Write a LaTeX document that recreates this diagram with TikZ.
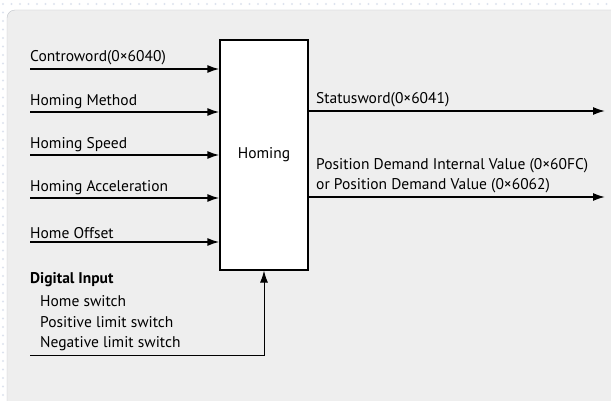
\documentclass[tikz,border=0pt]{standalone}
\usepackage{fontspec}
\setmainfont{PT Sans}
\usetikzlibrary{arrows.meta,positioning,calc}
\definecolor{panelgray}{HTML}{EEEEEE}
\definecolor{panelline}{HTML}{C2C6CB}
\definecolor{dotblue}{HTML}{DDE3EE}
\tikzset{
  sig/.style={line width=1.6pt,-{Latex[length=12pt,width=8pt]}},
  thinsig/.style={line width=0.9pt,-{Latex[length=12pt,width=8pt]}},
  siglabel/.style={anchor=south west,inner sep=0pt,font=\fontsize{15.5}{20.5}\selectfont},
  hombox/.style={draw,fill=white,line width=1.3pt,minimum width=88pt,minimum height=230pt,
    font=\fontsize{15.5}{18}\selectfont},
}
\begin{document}
\begin{tikzpicture}[x=1pt,y=-1pt]

            % Background and panel.
            \useasboundingbox (0,0) rectangle (611,401);
            \fill[white] (0,0) rectangle (611,401);
            \foreach \x in {3,11.5,...,611}
                \fill[dotblue] (\x,4) circle (1.2pt);
            \foreach \y in {12.5,21,...,401}
                \fill[dotblue] (3,\y) circle (1.2pt);
            \filldraw[fill=panelgray,draw=panelline,rounded corners=8pt] (7,10) rectangle (650,440);

            % Homing block.
            \node[hombox] (hom) at (264,155) {Homing};

            % Inputs.
            \foreach \name/\y/\txt in {ctrl/69/Controword(0×6040),
                                      method/112/Homing Method,
                                      speed/155/Homing Speed,
                                      accel/198/Homing Acceleration,
                                      offset/242/Home Offset}
            {
                \coordinate (\name) at (30,\y);
                \draw[sig] (\name) -- (\name -| hom.west);
                \node[siglabel] (\name-lbl) at ([yshift=3.5pt]\name) {\txt};
            }

            % Outputs.
            \coordinate (stat) at (605,111);
            \coordinate (pos) at (605,197);
            \draw[sig] (hom.east |- stat) -- (stat);
            \draw[sig] (hom.east |- pos) -- (pos);
            \node[siglabel] (stat-lbl) at (316,107.5) {Statusword(0×6041)};
            \node[siglabel,align=left] (pos-lbl) at (316,193.5)
                {Position Demand Internal Value (0×60FC)\\or Position Demand Value (0×6062)};

            % Digital input.
            \node[siglabel,anchor=west,font=\fontsize{15.5}{18}\selectfont\bfseries] (din) at (30,280) {Digital Input};
            \node[siglabel,anchor=west] (home) at (40,301) {Home switch};
            \node[siglabel,anchor=west] (plim) at (40,322.5) {Positive limit switch};
            \node[siglabel,anchor=west] (nlim) at (40,344) {Negative limit switch};
            \coordinate (dstart) at (30,355);
            \draw[thinsig] (dstart) -| (hom.south);

\end{tikzpicture}
\end{document}
